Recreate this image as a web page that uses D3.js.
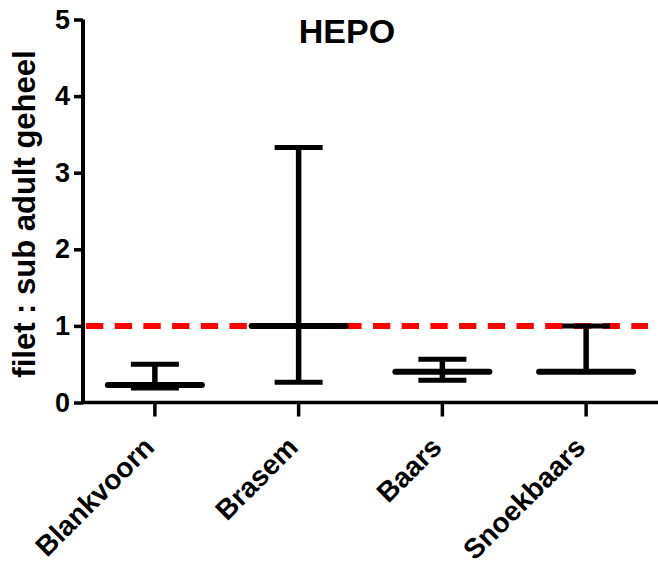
<!DOCTYPE html>
<html>
<head>
<meta charset="utf-8">
<script src="https://cdn.jsdelivr.net/npm/d3@7"></script>
<style>
  body { margin: 0; background: #fff; }
  svg { display: block; font-family: "Liberation Sans", Arial, sans-serif; font-weight: bold; }
</style>
</head>
<body>
<svg id="chart" width="658" height="565"></svg>
<script>
const categories = ["Blankvoorn", "Brasem", "Baars", "Snoekbaars"];
const medians = [0.23, 1.0, 0.40, 0.40];
const upper = [0.50, 3.33, 0.565, 1.0];
const lower = [0.19, 0.265, 0.29, 0.40];
const yTicks = [0, 1, 2, 3, 4, 5];
const refValue = 1;
const title = "HEPO";
const yLabel = "filet : sub adult geheel";

const svg = d3.select("#chart");
const x0 = 83, x1 = 658, yTop = 19.5, yBot = 402.5;

const x = d3.scaleBand().domain(categories).range([x0, x1]).paddingInner(0).paddingOuter(0);
const y = d3.scaleLinear().domain([0, 5]).range([yBot, yTop]);
const cx = c => x(c) + x.bandwidth() / 2;

// reference dashed line
svg.append("line")
  .attr("x1", 86).attr("x2", 648)
  .attr("y1", y(refValue)).attr("y2", y(refValue))
  .attr("stroke", "#ff0000").attr("stroke-width", 6)
  .attr("stroke-dasharray", "17.3,11.4");

// error bars
const g = svg.append("g");
categories.forEach((c, i) => {
  const xc = cx(c);
  g.append("line").attr("x1", xc).attr("x2", xc)
    .attr("y1", y(upper[i])).attr("y2", y(lower[i]))
    .attr("stroke", "#000").attr("stroke-width", 5.5);
  [upper[i], lower[i]].forEach(v => {
    if (v === medians[i]) return;
    g.append("line").attr("x1", xc - 24).attr("x2", xc + 24)
      .attr("y1", y(v)).attr("y2", y(v))
      .attr("stroke", "#000").attr("stroke-width", 5);
  });
  g.append("line").attr("x1", xc - 47).attr("x2", xc + 47)
    .attr("y1", y(medians[i])).attr("y2", y(medians[i]))
    .attr("stroke", "#000").attr("stroke-width", 6)
    .attr("stroke-linecap", "round");
});

// y axis
const yAxis = svg.append("g").attr("transform", `translate(${x0},0)`)
  .call(d3.axisLeft(y).tickValues(yTicks).tickFormat(d3.format("d")).tickSize(9).tickPadding(4));
yAxis.select(".domain").attr("stroke", "#000").attr("stroke-width", 4).attr("d", `M0,${yTop}V${yBot}`);
yAxis.selectAll(".tick line").attr("stroke", "#000").attr("stroke-width", 3.5);
yAxis.selectAll(".tick text").attr("font-size", 27).attr("font-weight", "bold")
  .attr("font-family", "'Liberation Sans', Arial, sans-serif").attr("fill", "#000");

// x axis
const xAxis = svg.append("g").attr("transform", `translate(0,${yBot})`)
  .call(d3.axisBottom(x).tickSize(14).tickFormat(""));
xAxis.select(".domain").attr("stroke", "#000").attr("stroke-width", 3.5).attr("d", `M${x0 - 2},0H${x1}`);
xAxis.selectAll(".tick line").attr("stroke", "#000").attr("stroke-width", 3.5);

// x labels rotated
svg.append("g").selectAll("text").data(categories).join("text")
  .attr("transform", d => `translate(${cx(d) + 1},${449}) rotate(-45)`)
  .attr("text-anchor", "end")
  .attr("font-size", 28)
  .text(d => d);

// title
svg.append("text").attr("x", 347).attr("y", 43)
  .attr("text-anchor", "middle").attr("font-size", 34).text(title);

// y label
svg.append("text")
  .attr("transform", `translate(35,214) rotate(-90)`)
  .attr("text-anchor", "middle").attr("font-size", 31).text(yLabel);
</script>
</body>
</html>
